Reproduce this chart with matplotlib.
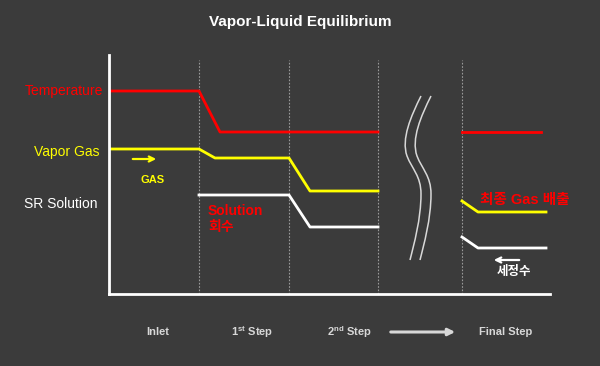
"""Vapor-Liquid Equilibrium diagram (process-stage profile)."""

import matplotlib

matplotlib.use("Agg")
import matplotlib.pyplot as plt  # noqa: E402
from matplotlib.path import Path  # noqa: E402
from matplotlib.patches import PathPatch  # noqa: E402

plt.rcParams["font.family"] = ["Liberation Sans", "Noto Sans CJK KR", "DejaVu Sans"]

BG = "#3b3b3b"

# process position (x) vs. relative level (y)
temp_x = [0, 90, 111, 269]
temp_y = [203, 203, 162, 162]
temp_final_x = [353, 432]
temp_final_y = [162, 162]

vapor_x = [0, 90, 106, 180, 201, 269]
vapor_y = [145, 145, 136, 136, 103, 103]
vapor_final_x = [353, 369, 437]
vapor_final_y = [93, 82, 82]

sol_x = [90, 180, 201, 269]
sol_y = [99, 99, 67, 67]
sol_final_x = [353, 369, 437]
sol_final_y = [57, 46, 46]

stage_bounds = [90, 180, 269, 353]
stage_names = ["Inlet", "1$^{\\mathregular{st}}$ Step", "2$^{\\mathregular{nd}}$ Step", "Final Step"]
stage_centers = [49, 143, 240, 397]

# break marker (squiggle) control points
squiggle = [(312, 198), (302, 178), (292, 155), (298, 138),
            (303, 125), (312, 118), (312, 100),
            (312, 75), (305, 50), (301, 34)]
squiggle_shift = 10

fig = plt.figure(figsize=(6, 3.66), dpi=100, facecolor=BG)
ax = fig.add_axes([109 / 600, 72 / 366, 441 / 600, 239 / 366], facecolor=BG)
ax.set_xlim(0, 441)
ax.set_ylim(0, 239)
for s in ["top", "right"]:
    ax.spines[s].set_visible(False)
for s in ["left", "bottom"]:
    ax.spines[s].set_color("white")
    ax.spines[s].set_linewidth(2)
ax.set_xticks([])
ax.set_yticks([])

for xb in stage_bounds:
    ax.plot([xb, xb], [0, 234], color="#9a9a9a", lw=0.8, ls=(0, (1.5, 1.5)))

lw = 2.0
ax.plot(temp_x, temp_y, color="#ff0000", lw=lw)
ax.plot(temp_final_x, temp_final_y, color="#ff0000", lw=lw)
ax.plot(vapor_x, vapor_y, color="#ffff00", lw=lw)
ax.plot(vapor_final_x, vapor_final_y, color="#ffff00", lw=lw)
ax.plot(sol_x, sol_y, color="white", lw=lw)
ax.plot(sol_final_x, sol_final_y, color="white", lw=lw)

codes = [Path.MOVETO] + [Path.CURVE4] * 9
for dx in [0, squiggle_shift]:
    verts = [(x + dx, y) for x, y in squiggle]
    ax.add_patch(PathPatch(Path(verts, codes), fill=False, ec="#d8d8d8", lw=1.1))

# left labels
ax.text(-6, 203, "Temperature", color="#ff0000", fontsize=10, ha="right", va="center", clip_on=False)
ax.text(-10, 142, "Vapor Gas", color="#ffff00", fontsize=10, ha="right", va="center", clip_on=False)
ax.text(-11, 90, "SR Solution", color="white", fontsize=10, ha="right", va="center", clip_on=False)

# annotations inside
ax.annotate("", xy=(50, 135), xytext=(21, 135),
            arrowprops=dict(arrowstyle="->", color="#ffff00", lw=1.6, mutation_scale=9))
ax.text(44, 114, "GAS", color="#ffff00", fontsize=8, fontweight="bold", ha="center", va="center")
ax.text(99, 83, "Solution", color="#ff0000", fontsize=10, fontweight="bold", ha="left", va="center")
ax.text(99, 67, "회수", color="#ff0000", fontsize=10, fontweight="bold", ha="left", va="center")
ax.text(371, 94, "최종 Gas 배출", color="#ff0000", fontsize=10.5, fontweight="bold", ha="left", va="center")
ax.annotate("", xy=(382, 34), xytext=(413, 34),
            arrowprops=dict(arrowstyle="->", color="white", lw=1.6, mutation_scale=9))
ax.text(405, 22, "세정수", color="white", fontsize=9, fontweight="bold", ha="center", va="center")

# bottom stage labels
for cx, name in zip(stage_centers, stage_names):
    ax.text(cx, -38, name, color="#d8d8d8", fontsize=8, fontweight="bold",
            ha="center", va="center", clip_on=False)
ax.annotate("", xy=(349, -38), xytext=(279, -38), annotation_clip=False,
            arrowprops=dict(arrowstyle="-|>", color="#d8d8d8", lw=2.2, mutation_scale=10))

fig.text(0.5, 1 - 22 / 366, "Vapor-Liquid Equilibrium", color="white", fontsize=11,
         fontweight="bold", ha="center", va="center")

fig.savefig("out.png", dpi=100, facecolor=BG)
